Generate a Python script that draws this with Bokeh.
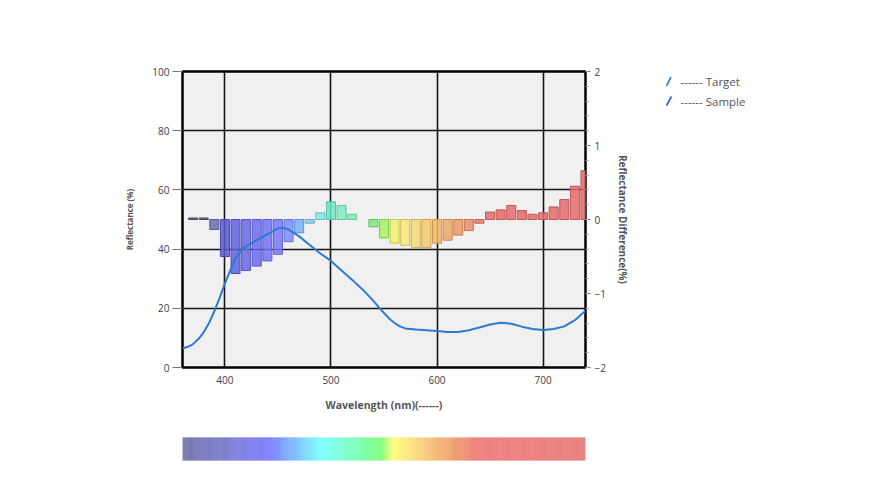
import numpy as np
from bokeh.plotting import figure
from bokeh.models import Range1d, LinearAxis, FixedTicker
from bokeh.layouts import column, row
from bokeh.core.properties import value
from bokeh.embed import file_html
from bokeh.resources import INLINE

# ---------------- data ----------------
wavelength = [360, 365, 370, 375, 380, 385, 390, 395, 400, 405, 410, 415, 420, 430, 440, 450,
              455, 460, 470, 480, 490, 500, 510, 520, 530, 540, 545, 550, 555, 560, 565, 570,
              580, 590, 600, 610, 620, 630, 640, 650, 660, 670, 680, 690, 700, 710, 720, 730,
              740]
sample_reflectance = [6.4, 7.0, 7.9, 9.6, 11.9, 15.0, 19.0, 23.5, 28.4, 32.8, 36.8, 39.5, 41.0,
                      43.0, 45.0, 47.0, 47.2, 46.6, 44.3, 41.4, 38.5, 36.0, 32.8, 29.6, 26.3,
                      22.5, 20.4, 18.4, 16.5, 15.0, 13.9, 13.2, 12.8, 12.6, 12.3, 12.0, 12.0,
                      12.6, 13.5, 14.5, 15.1, 14.8, 13.8, 13.0, 12.7, 13.0, 13.9, 16.0, 19.2]

diff_wavelength = [370, 380, 390, 400, 410, 420, 430, 440, 450, 460, 470, 480, 490, 500, 510,
                   520, 540, 550, 560, 570, 580, 590, 600, 610, 620, 630, 640, 650, 660, 670,
                   680, 690, 700, 710, 720, 730, 740]
reflectance_difference = [0.02, 0.02, -0.135, -0.50, -0.73, -0.69, -0.63, -0.56, -0.47, -0.30,
                          -0.18, -0.05, 0.09, 0.24, 0.19, 0.07, -0.10, -0.25, -0.32, -0.35,
                          -0.38, -0.38, -0.32, -0.28, -0.21, -0.15, -0.05, 0.10, 0.13, 0.19,
                          0.12, 0.07, 0.09, 0.17, 0.27, 0.45, 0.66]
bar_colors = ["#555577", "#555577", "#6b6bb5", "#5a5ad2", "#6060e0", "#6868e8", "#6c6cf0",
              "#7272f6", "#7878fc", "#7c8cff", "#78b0f8", "#80d0f8", "#80e8e8", "#70e8c8",
              "#78eec0", "#80f0b0", "#80e880", "#a8f060", "#f0f070", "#f8e878", "#f8d878",
              "#f8c870", "#f5b868", "#f0a868", "#f09868", "#ee8c6a", "#ea7a6a", "#e86a6a",
              "#e86a6a", "#e86a6a", "#e86a6a", "#e86a6a", "#e86a6a", "#e86a6a", "#e86a6a",
              "#e86a6a", "#e86a6a"]

x_ticks = [400, 500, 600, 700]
y_ticks = [0, 20, 40, 60, 80, 100]
diff_ticks = [-2, -1, 0, 1, 2]

# colour-bar gradient stops
cb_wavelength = [360, 412, 443, 490, 515, 547, 559, 587, 616, 640, 740]
cb_colors = ["#7878a8", "#8080e0", "#8080ff", "#80ffff", "#80ffd0", "#80ff80", "#ffff80",
             "#f8d080", "#f0a070", "#f08080", "#e88080"]

legend_labels = ["------ Target", "------ Sample"]
legend_icon_colors = ["#4a88d4", "#2b6fc8"]

# ---------------- helpers ----------------
def hex_to_rgb(h):
    h = h.lstrip("#")
    return [int(h[i:i + 2], 16) for i in (0, 2, 4)]

def rgb_to_hex(c):
    return "#%02x%02x%02x" % tuple(int(round(max(0, min(255, v)))) for v in c)

def darker(h, f=0.8):
    return rgb_to_hex([v * f for v in hex_to_rgb(h)])

FONT = "Open Sans"
TICK_COLOR = "#3c3c50"
LEFT, FRAME_W, RIGHT = 182, 403, 75

# ---------------- main figure ----------------
p = figure(frame_width=FRAME_W, frame_height=296,
           min_border_left=LEFT, min_border_right=RIGHT, min_border_top=71, min_border_bottom=70,
           x_range=Range1d(360, 740), y_range=Range1d(0, 100),
           output_backend="svg", toolbar_location=None,
           background_fill_color="#f0f0f0", border_fill_color="white")
p.extra_y_ranges = {"diff": Range1d(-2, 2)}

p.outline_line_color = "black"
p.outline_line_width = 2.5

p.xaxis.ticker = FixedTicker(ticks=x_ticks)
p.yaxis.ticker = FixedTicker(ticks=y_ticks)
p.xgrid.ticker = FixedTicker(ticks=x_ticks)
p.ygrid.ticker = FixedTicker(ticks=y_ticks)
for g in (p.xgrid, p.ygrid):
    g.grid_line_color = "#151515"
    g.grid_line_width = 1.6

p.xaxis.axis_label = "Wavelength (nm)(------)"
p.yaxis.axis_label = "Reflectance (%)"

right = LinearAxis(y_range_name="diff",
                   ticker=FixedTicker(ticks=diff_ticks,
                                      minor_ticks=[round(-2 + 0.2 * i, 1) for i in range(21)]),
                   axis_label="Reflectance Difference(%)")
p.add_layout(right, "right")

for ax in (p.xaxis[0], p.yaxis[0], right):
    ax.axis_line_color = None
    ax.major_label_text_font = FONT
    ax.major_label_text_font_size = "10px"
    ax.major_label_text_color = TICK_COLOR
    ax.axis_label_text_font = FONT
    ax.axis_label_text_font_style = "bold"
    ax.axis_label_text_color = "#555555"
    ax.minor_tick_line_color = None
    ax.major_tick_line_color = "#777777"

p.xaxis.axis_label_text_font_size = "10.5px"
p.yaxis.axis_label_text_font_size = "8px"
right.axis_label_text_font_size = "10px"

p.xaxis.major_tick_out = 0
p.xaxis.major_tick_in = 0
p.xaxis.major_label_standoff = 8
p.xaxis.axis_label_standoff = 11

p.yaxis.major_tick_out = 10
p.yaxis.major_tick_in = 0
p.yaxis.major_label_standoff = 3
p.yaxis.axis_label_standoff = 14

right.major_tick_out = 5
right.major_tick_in = 0
right.minor_tick_out = 3
right.minor_tick_in = 0
right.minor_tick_line_color = "#999999"
right.major_label_standoff = 4
right.axis_label_standoff = 7

# difference bars
p.vbar(x=diff_wavelength, width=8.5, top=reflectance_difference, bottom=0,
       y_range_name="diff", fill_color=bar_colors, fill_alpha=0.85,
       line_color=[darker(c, 0.82) for c in bar_colors], line_width=1)

# sample curve
p.line(wavelength, sample_reflectance, line_color="#2b7bd0", line_width=2)

# ---------------- colour bar ----------------
cb_rgb = np.array([hex_to_rgb(c) for c in cb_colors], dtype=float)
steps = np.arange(360, 740, 1.0)
grad = [rgb_to_hex([np.interp(w + 0.5, cb_wavelength, cb_rgb[:, k]) for k in range(3)]) for w in steps]

cb = figure(frame_width=FRAME_W, frame_height=23,
            min_border_left=LEFT, min_border_right=RIGHT, min_border_top=0, min_border_bottom=10,
            x_range=p.x_range, y_range=Range1d(0, 1), x_axis_type=None, y_axis_type=None,
            output_backend="svg", toolbar_location=None, border_fill_color="white")
cb.grid.visible = False
cb.outline_line_color = None
cb.quad(left=steps, right=steps + 1, bottom=0, top=1, fill_color=grad, line_color=grad,
        line_width=0.6)

# ---------------- legend panel (page-pixel coordinates) ----------------
LEG_X0 = LEFT + FRAME_W + RIGHT
lg = figure(width=130, height=120, min_border=0,
            x_range=Range1d(LEG_X0, LEG_X0 + 130), y_range=Range1d(120, 0),
            x_axis_type=None, y_axis_type=None,
            output_backend="svg", toolbar_location=None, border_fill_color="white",
            background_fill_color="white")
lg.grid.visible = False
lg.outline_line_color = None
legend_rows = [81, 100.5]
lg.segment(x0=[666, 666], y0=[r + 4.5 for r in legend_rows],
           x1=[670.5, 671], y1=[r - 4.5 for r in legend_rows],
           line_color=legend_icon_colors, line_width=1.8)
lg.text(x=[680, 680], y=legend_rows, text=legend_labels, text_font=value(FONT),
        text_font_size="11.5px", text_color="#555555", text_baseline="middle", text_align="left")

layout = row(column(p, cb, spacing=0), lg, spacing=0)

open("out.html", "w").write(file_html(layout, INLINE))
